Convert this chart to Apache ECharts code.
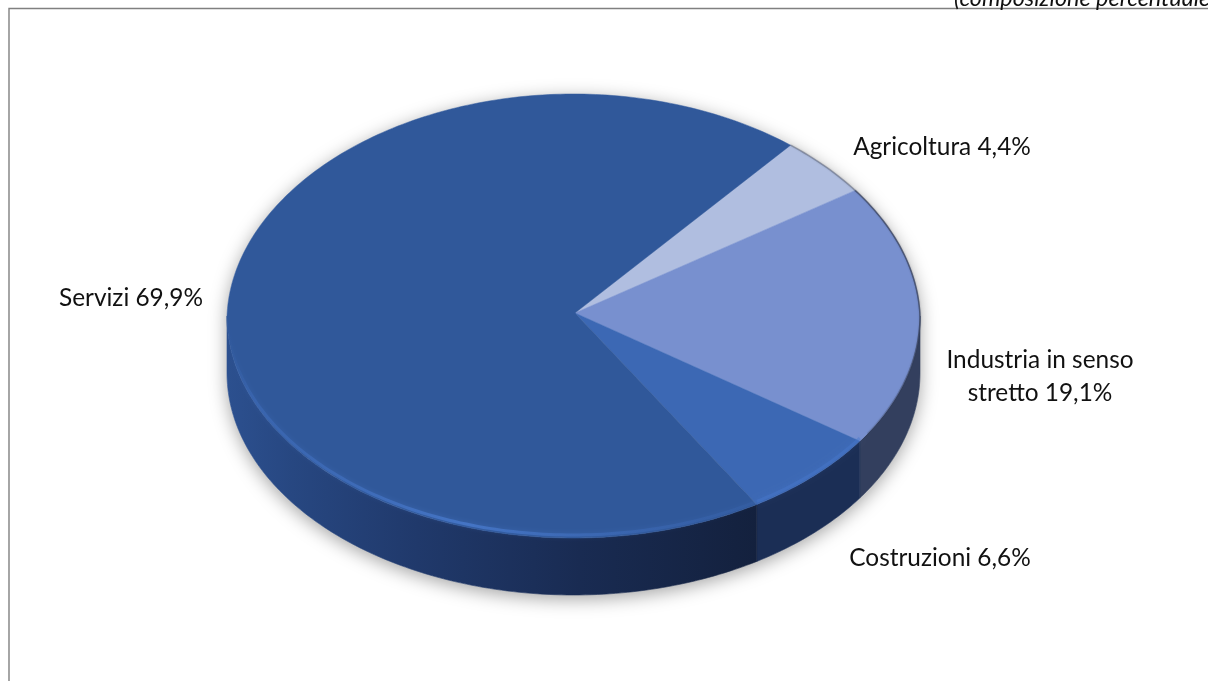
<!DOCTYPE html>
<html>
<head>
<meta charset="utf-8">
<style>html,body{margin:0;padding:0;background:#fff;overflow:hidden}#chart{width:1208px;height:681px}</style>
<script src="https://cdn.jsdelivr.net/npm/echarts@6/dist/echarts.min.js"></script>
</head>
<body>
<div id="chart"></div>
<script>
// Employment shares by sector, clockwise from the first slice
const categories = ['Agricoltura', 'Industria in senso\nstretto', 'Costruzioni', 'Servizi'];
const shares = [4.4, 19.1, 6.6, 69.9];
const subtitle = '(composizione percentuale)';

// Colours per slice: top face and side wall
const topColors = ['#b0bee0', '#7890cf', '#3c68b4', '#30589a'];
const wallColors = ['#8f9bb8', '#333f5e', '#1b2e55', null];

// Projected disc geometry; farNarrow tapers the far half for a slight perspective
const disc = { cx: 573.5, cy: 316, rx: 346.5, ry: 222, depth: 57, apexX: 575, apexY: 313, startDeg: 39.7, farNarrow: 0.025 };
// Label centres in page pixels, same order as categories
const labelCenters = [[942, 147], [1040, 377], [940, 558], [131, 298]];

const FONT = 'Lato, "Open Sans", sans-serif';
const FONT_SIZE = 24.4;
const rad = d => d * Math.PI / 180;
const total = shares.reduce((a, b) => a + b, 0);

function ellipsePoint(deg, dy) {
  const c = Math.cos(rad(deg));
  const taper = 1 - disc.farNarrow * Math.max(0, c);
  return [disc.cx + disc.rx * taper * Math.sin(rad(deg)), disc.cy + (dy || 0) - disc.ry * c];
}
function arc(from, to, dy) {
  const pts = [];
  const n = Math.max(2, Math.ceil(Math.abs(to - from)));
  for (let i = 0; i <= n; i++) pts.push(ellipsePoint(from + (to - from) * i / n, dy));
  return pts;
}
function sliceRange(index) {
  let before = 0;
  for (let i = 0; i < index; i++) before += shares[i];
  const a = disc.startDeg + before / total * 360;
  return [a, a + shares[index] / total * 360];
}
function wallFill(index) {
  if (wallColors[index]) return wallColors[index];
  return new echarts.graphic.LinearGradient(disc.cx - disc.rx, 0, 770, 0, [
    { offset: 0, color: '#2c508f' },
    { offset: 0.12, color: '#274781' },
    { offset: 0.35, color: '#20396b' },
    { offset: 0.65, color: '#192b52' },
    { offset: 1, color: '#13203c' }
  ], true);
}

function renderSlice(params, api) {
  const index = params.dataIndex;
  const [a0, a1] = sliceRange(index);
  const children = [];

  // Soft shadow under the whole disc, drawn once
  if (index === 0) {
    const outline = arc(90, 270, disc.depth).concat(arc(270, 450, 0));
    children.push({
      type: 'polygon', z2: 0, shape: { points: outline },
      style: { fill: '#fff', shadowBlur: 18, shadowOffsetY: 4, shadowColor: 'rgba(0,0,0,0.36)' }
    });
  }

  // Side wall: only the part of the slice facing the viewer
  const w0 = Math.max(a0, 90), w1 = Math.min(a1, 270);
  if (w1 > w0) {
    const fill = wallFill(index);
    children.push({
      type: 'polygon', z2: 1,
      shape: { points: arc(w0, w1, 0).concat(arc(w1, w0, disc.depth)) },
      style: { fill, stroke: fill, lineWidth: 0.6 }
    });
  }

  // Top face
  children.push({
    type: 'polygon', z2: 2,
    shape: { points: [[disc.apexX, disc.apexY]].concat(arc(a0, a1, 0)) },
    style: { fill: topColors[index], stroke: topColors[index], lineWidth: 0.5 }
  });

  // Lit bevel on the front rim of the darker slices
  if (index >= 2) {
    const b0 = Math.max(a0, 90), b1 = Math.min(a1, 272);
    children.push({
      type: 'polyline', z2: 3,
      shape: { points: arc(b0, b1, -3) },
      style: {
        fill: null, lineWidth: 3,
        stroke: index === 2 ? 'rgba(70,120,205,0.45)' : new echarts.graphic.LinearGradient(disc.cx - disc.rx, 0, 760, 0, [
          { offset: 0, color: 'rgba(64,110,190,0)' },
          { offset: 0.05, color: 'rgba(64,110,190,0.45)' },
          { offset: 0.45, color: 'rgba(74,124,208,0.75)' },
          { offset: 0.8, color: 'rgba(64,110,190,0.4)' },
          { offset: 1, color: 'rgba(64,110,190,0.15)' }
        ], true),
        shadowBlur: 5, shadowColor: 'rgba(74,124,208,0.5)'
      }
    });
  }

  // Soft dark line along the far right rim
  if (index < 2) {
    children.push({
      type: 'polyline', z2: 3,
      shape: { points: arc(a0, Math.min(a1, 122), 0) },
      style: {
        fill: null, lineWidth: 1.5,
        stroke: index === 0 ? 'rgba(70,75,90,0.4)' : new echarts.graphic.LinearGradient(0, 190, 0, 435, [
          { offset: 0, color: 'rgba(40,48,70,0.6)' },
          { offset: 0.6, color: 'rgba(40,48,70,0.6)' },
          { offset: 1, color: 'rgba(40,48,70,0.15)' }
        ], true),
        shadowBlur: 2, shadowColor: 'rgba(40,48,70,0.5)'
      }
    });
  }

  // Sector label
  const [lx, ly] = labelCenters[index];
  children.push({
    type: 'text', z2: 5, x: lx, y: ly,
    style: {
      text: categories[index] + ' ' + api.value(0).toFixed(1).replace('.', ',') + '%',
      font: FONT_SIZE + 'px ' + FONT, fill: '#111', align: 'center', verticalAlign: 'middle', lineHeight: 33
    }
  });

  return { type: 'group', children };
}

const chart = echarts.init(document.getElementById('chart'), null, { renderer: 'canvas' });
chart.setOption({
  animation: false,
  backgroundColor: '#fff',
  title: {
    text: subtitle, left: 949, top: -18,
    textStyle: { fontFamily: FONT, fontStyle: 'italic', fontWeight: 'normal', fontSize: 23.4, color: '#111' }
  },
  graphic: [{
    type: 'rect', z: -1, shape: { x: 9, y: 8.5, width: 1400, height: 900 },
    style: { fill: 'none', stroke: '#808080', lineWidth: 1.4 }
  }],
  series: [{
    type: 'custom',
    coordinateSystem: 'none',
    data: shares.map((v, i) => ({ name: categories[i], value: [v] })),
    renderItem: renderSlice,
    silent: true
  }]
});
</script>
</body>
</html>
